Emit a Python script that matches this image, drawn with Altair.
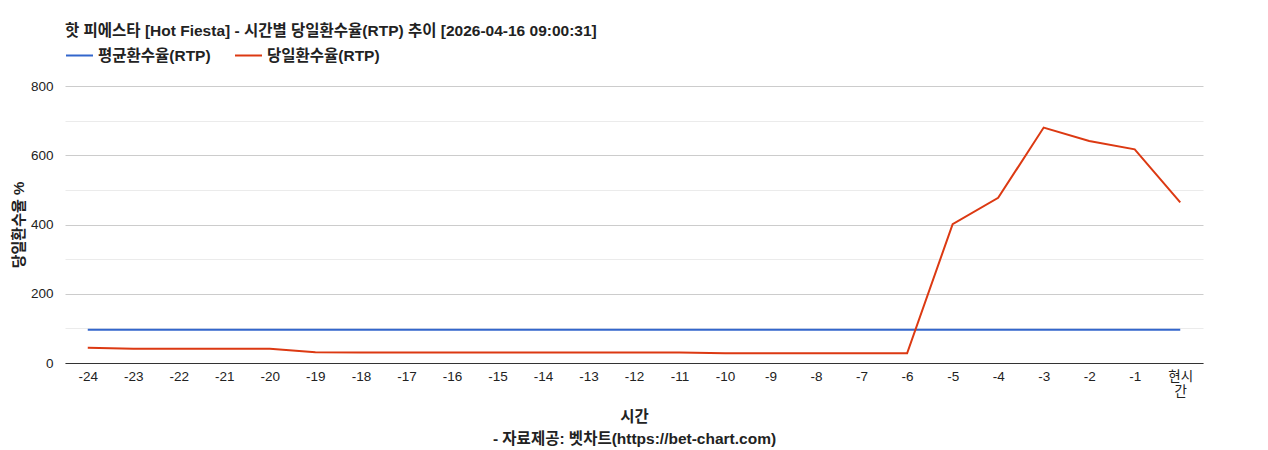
import altair as alt
import pandas as pd

hours = [str(h) for h in range(-24, 0)] + ["현시간"]
avg_rtp = [96] * 25
today_rtp = [44, 41, 41, 41, 41, 31, 30, 30, 30, 30, 30, 30, 30, 30, 28, 28, 28, 28, 28,
             401, 477, 680, 641, 617, 464]
series_names = ["평균환수율(RTP)", "당일환수율(RTP)"]
series_colors = ["#3366cc", "#dc3912"]

rows = []
for i, h in enumerate(hours):
    rows.append({"hour": h, "series": series_names[0], "value": avg_rtp[i], "order": 0})
    rows.append({"hour": h, "series": series_names[1], "value": today_rtp[i], "order": 1})
df = pd.DataFrame(rows)

FONT = "Liberation Sans, Noto Sans CJK KR, sans-serif"

chart = alt.Chart(df).mark_line(strokeWidth=2).encode(
    x=alt.X("hour:N", sort=hours, scale=alt.Scale(padding=0.5),
            axis=alt.Axis(title=["시간", "- 자료제공: 벳차트(https://bet-chart.com)"],
                          labelAngle=0, ticks=False, domainColor="#333333",
                          labelColor="#222222", labelFontSize=13.5, labelPadding=6,
                          labelExpr="datum.label == '현시간' ? ['현시', '간'] : datum.label",
                          titleFontSize=15.5, titleFontWeight="bold", titleColor="#222222",
                          titlePadding=11, titleLineHeight=22, grid=False)),
    y=alt.Y("value:Q", scale=alt.Scale(domain=[0, 800], nice=False),
            axis=alt.Axis(title="당일환수율 %", values=list(range(0, 801, 100)),
                          labelExpr="datum.value % 200 == 0 ? datum.label : ''",
                          ticks=False, domain=False, labelColor="#222222",
                          labelFontSize=13.5, labelPadding=12,
                          gridColor={"condition": {"test": "datum.value % 200 == 0", "value": "#cccccc"},
                                     "value": "#ebebeb"},
                          titleFontSize=15, titleFontWeight="bold", titleColor="#222222",
                          titlePadding=4)),
    color=alt.Color("series:N", sort=series_names,
                    scale=alt.Scale(domain=series_names, range=series_colors),
                    legend=alt.Legend(title=None, orient="top", direction="horizontal",
                                      symbolType="stroke", symbolSize=729, symbolStrokeWidth=2,
                                      labelFontSize=15.5, labelFontWeight="bold",
                                      labelColor="#222222", columnPadding=20, offset=22,
                                      padding=0)),
    order="order:Q",
).properties(
    width=1138, height=277,
    padding={"top": 15, "left": 3, "right": 5, "bottom": 5},
    title=alt.TitleParams("핫 피에스타 [Hot Fiesta] - 시간별 당일환수율(RTP) 추이 [2026-04-16 09:00:31]",
                          anchor="start", frame="group", fontSize=15.5, fontWeight="bold",
                          color="#222222", offset=2),
).configure(font=FONT).configure_view(stroke=None)

chart.save("out.html", embed_options={"renderer": "svg", "actions": False})
